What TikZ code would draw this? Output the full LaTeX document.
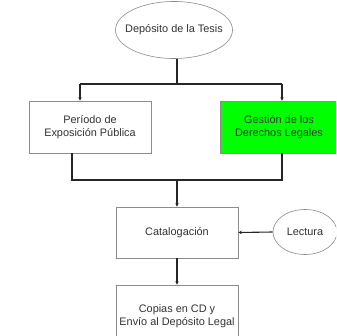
\documentclass[tikz,border=0pt]{standalone}
\usepackage{fontspec}
\setmainfont{Liberation Sans}
\usetikzlibrary{shapes.geometric,arrows.meta}
\begin{document}
\begin{tikzpicture}[x=1pt,y=-1pt,
  txt/.style={text=black!80,font=\fontsize{10.9}{13.5}\selectfont,align=center,inner sep=0pt},
  boxn/.style={txt,draw=black!45,line width=0.6pt,rectangle},
  ell/.style={draw=black!45,line width=0.6pt,ellipse,inner sep=0pt},
  conn/.style={draw=black!85,line width=1.1pt},
  arr/.style={conn,-{Stealth[length=3.5pt,width=3.5pt]}}]
\useasboundingbox (0,0) rectangle (336,336);
\clip (0,0) rectangle (336,336);
\fill[white] (0,0) rectangle (336,336);
\node[ell,minimum width=117pt,minimum height=57pt,label={[txt]center:Depósito de la Tesis}] (dep) at (174,30) {};
\node[boxn,minimum width=122pt,minimum height=52pt] (per) at (90,127) {Período de\\Exposición Pública};
\node[boxn,fill={rgb,255:red,0;green,255;blue,0},minimum width=118pt,minimum height=52pt] (ges) at (279,127) {Gestión de los\\Derechos Legales};
\node[boxn,minimum width=122pt,minimum height=51pt] (cat) at (177,232.5) {Catalogación};
\node[ell,minimum width=64pt,minimum height=45pt,label={[txt]center:Lectura}] (lec) at (305,232) {};
\node[boxn,minimum width=122pt,minimum height=62pt] (cop) at (177,316) {Copias en CD y\\Envío al Depósito Legal};
\coordinate (s1) at (177,84);
\coordinate (l1) at (80,84);
\coordinate (r1) at (282,84);
\coordinate (l2) at (72,180);
\coordinate (r2) at (282,180);
\coordinate (m2) at (177,180);
\draw[conn] (dep.south -| s1) -- (s1);
\draw[conn] (l1) -- (r1);
\draw[arr] (l1) -- (l1 |- per.north);
\draw[arr] (r1) -- (r1 |- ges.north);
\draw[conn] (l2 |- per.south) -- (l2) -- (r2) -- (r2 |- ges.south);
\draw[arr] (m2) -- (m2 |- cat.north);
\draw[arr] (lec.west) -- (cat.east);
\draw[arr] (cat.south) -- (cop.north);
\end{tikzpicture}
\end{document}
